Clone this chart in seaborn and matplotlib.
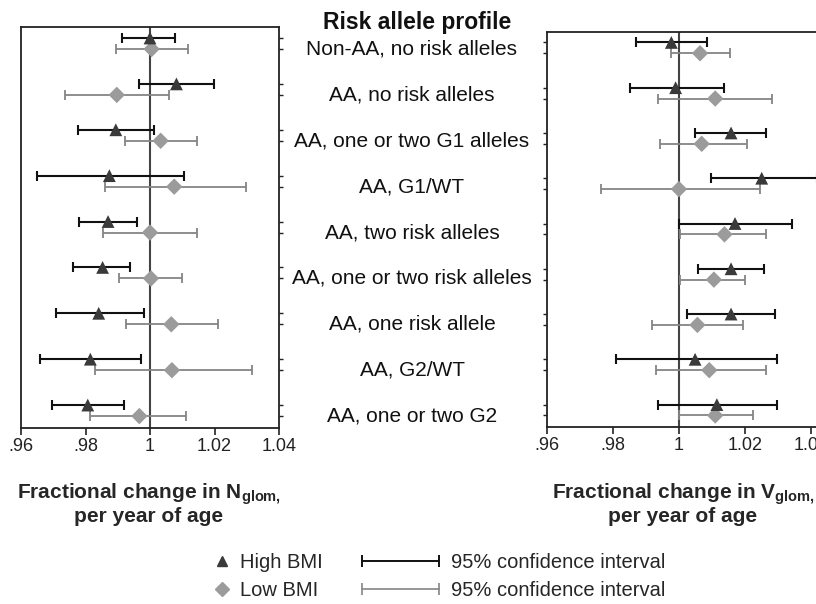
import numpy as np
import matplotlib
matplotlib.use("Agg")
import matplotlib.pyplot as plt
import matplotlib.transforms as mtransforms
from matplotlib.lines import Line2D
from matplotlib.legend_handler import HandlerLine2D
import seaborn as sns

# risk allele profile rows (top to bottom)
categories = ["Non-AA, no risk alleles", "AA, no risk alleles", "AA, one or two G1 alleles",
              "AA, G1/WT", "AA, two risk alleles", "AA, one or two risk alleles",
              "AA, one risk allele", "AA, G2/WT", "AA, one or two G2"]

# N_glom: point estimate and 95% CI
n_high = [1.0000, 1.0082, 0.9894, 0.9874, 0.9870, 0.9853, 0.9841, 0.9815, 0.9807]
n_high_lo = [0.9913, 0.9966, 0.9776, 0.9649, 0.9781, 0.9762, 0.9708, 0.9658, 0.9697]
n_high_hi = [1.0077, 1.0197, 1.0013, 1.0106, 0.9961, 0.9939, 0.9980, 0.9973, 0.9920]
n_low = [1.0005, 0.9897, 1.0033, 1.0075, 1.0000, 1.0003, 1.0066, 1.0068, 0.9967]
n_low_lo = [0.9895, 0.9735, 0.9921, 0.9862, 0.9854, 0.9905, 0.9927, 0.9829, 0.9815]
n_low_hi = [1.0119, 1.0060, 1.0145, 1.0297, 1.0146, 1.0100, 1.0211, 1.0316, 1.0111]

# V_glom: point estimate and 95% CI
v_high = [0.9977, 0.9990, 1.0158, 1.0251, 1.0170, 1.0158, 1.0158, 1.0049, 1.0115]
v_high_lo = [0.9871, 0.9852, 1.0050, 1.0097, 1.0000, 1.0059, 1.0024, 0.9808, 0.9936]
v_high_hi = [1.0085, 1.0136, 1.0263, 1.0420, 1.0343, 1.0258, 1.0290, 1.0296, 1.0296]
v_low = [1.0064, 1.0110, 1.0069, 1.0000, 1.0138, 1.0106, 1.0056, 1.0092, 1.0110]
v_low_lo = [0.9976, 0.9937, 0.9942, 0.9763, 1.0003, 1.0003, 0.9918, 0.9930, 1.0000]
v_low_hi = [1.0155, 1.0283, 1.0206, 1.0245, 1.0263, 1.0200, 1.0193, 1.0263, 1.0226]

xticks = [0.96, 0.98, 1.0, 1.02, 1.04]
xtick_labels = [".96", ".98", "1", "1.02", "1.04"]

sns.set_style("ticks")
plt.rcParams["font.family"] = ["Liberation Sans", "DejaVu Sans"]
plt.rcParams["mathtext.fontset"] = "custom"
plt.rcParams["mathtext.bf"] = "Liberation Sans:bold"

HI_COL = "#3a3a3a"
LO_COL = "#9b9b9b"
OFF = 0.12

fig = plt.figure(figsize=(8.16, 6.04), dpi=100)
ax1 = fig.add_axes([21 / 816, 176 / 604, 258 / 816, 401 / 604])
ax2 = fig.add_axes([547 / 816, 177 / 604, 283 / 816, 395 / 604])

rows = np.arange(len(categories))


def panel(ax, hi, hi_lo, hi_hi, lo, lo_lo, lo_hi):
    hi = np.array(hi); lo = np.array(lo)
    ax.axvline(1.0, color="#444444", lw=1.5, zorder=1)
    ax.errorbar(hi, rows - OFF, xerr=[hi - np.array(hi_lo), np.array(hi_hi) - hi],
                fmt="none", ecolor="#111111", elinewidth=1.5, capsize=3.5, capthick=1.5, zorder=2)
    ax.errorbar(lo, rows + OFF, xerr=[lo - np.array(lo_lo), np.array(lo_hi) - lo],
                fmt="none", ecolor="#858585", elinewidth=1.3, capsize=3.5, capthick=1.3, zorder=2)
    sns.scatterplot(x=hi, y=rows - OFF, marker="^", s=85, color=HI_COL, edgecolor="none",
                    ax=ax, zorder=4, legend=False)
    sns.scatterplot(x=lo, y=rows + OFF, marker="D", s=70, color=LO_COL, edgecolor="none",
                    ax=ax, zorder=3, legend=False)
    ax.set_xticks(xticks)
    ax.set_xticklabels(xtick_labels, fontsize=13)
    ax.set_yticks(np.sort(np.concatenate([rows - OFF, rows + OFF])))
    ax.set_yticklabels([])
    ax.set_xlabel("")
    ax.set_ylabel("")
    for s in ax.spines.values():
        s.set_linewidth(1.3)
        s.set_color("#222222")
    ax.tick_params(axis="x", direction="out", length=5, width=1.2, colors="#222222", pad=2)
    ax.tick_params(axis="y", direction="out", length=3, width=1, colors="#222222")


panel(ax1, n_high, n_high_lo, n_high_hi, n_low, n_low_lo, n_low_hi)
ax1.set_xlim(0.96, 1.04)
ax1.set_ylim(8.38, -0.36)
ax1.yaxis.tick_right()

panel(ax2, v_high, v_high_lo, v_high_hi, v_low, v_low_lo, v_low_hi)
ax2.set_xlim(0.96, 1.0458)
ax2.set_ylim(8.375, -0.35)
ax2.spines["right"].set_visible(False)

# row labels between the panels
trans = mtransforms.blended_transform_factory(fig.transFigure, ax1.transData)
for i, c in enumerate(categories):
    ax1.text(412 / 816, i + 0.12, c, transform=trans, ha="center", va="center",
             fontsize=15, color="#111111", clip_on=False)
fig.text(417 / 816, 1 - 22 / 604, "Risk allele profile", ha="center", va="center",
         fontsize=16.5, fontweight="bold", color="#111111")

fig.text(149 / 816, 1 - 504 / 604,
         "Fractional change in N$_{\\mathbf{glom,}}$\nper year of age",
         ha="center", va="center", fontsize=15, fontweight="bold", linespacing=1.0)
fig.text(683 / 816, 1 - 504 / 604,
         "Fractional change in V$_{\\mathbf{glom,}}$\nper year of age",
         ha="center", va="center", fontsize=15, fontweight="bold", linespacing=1.0)

# legends
mk = [Line2D([], [], marker="^", ls="none", color=HI_COL, ms=7),
      Line2D([], [], marker="D", ls="none", color=LO_COL, ms=7)]
fig.legend(mk, ["High BMI", "Low BMI"], loc="upper left",
           bbox_to_anchor=(212 / 816, 1 - 553 / 604), frameon=False,
           handlelength=1.0, handletextpad=0.4, labelspacing=0.45,
           borderpad=0, borderaxespad=0, prop={"size": 14.5})
ci = [Line2D([], [], color="#111111", lw=1.4, marker="|", ms=8, mew=1.4),
      Line2D([], [], color="#858585", lw=1.2, marker="|", ms=8, mew=1.2)]
fig.legend(ci, ["95% confidence interval", "95% confidence interval"], loc="upper left",
           bbox_to_anchor=(362 / 816, 1 - 553 / 604), frameon=False,
           handlelength=3.8, handletextpad=0.6, labelspacing=0.45,
           borderpad=0, borderaxespad=0, prop={"size": 14.5},
           handler_map={Line2D: HandlerLine2D(marker_pad=0, numpoints=2)})

fig.savefig("out.png", dpi=100)
